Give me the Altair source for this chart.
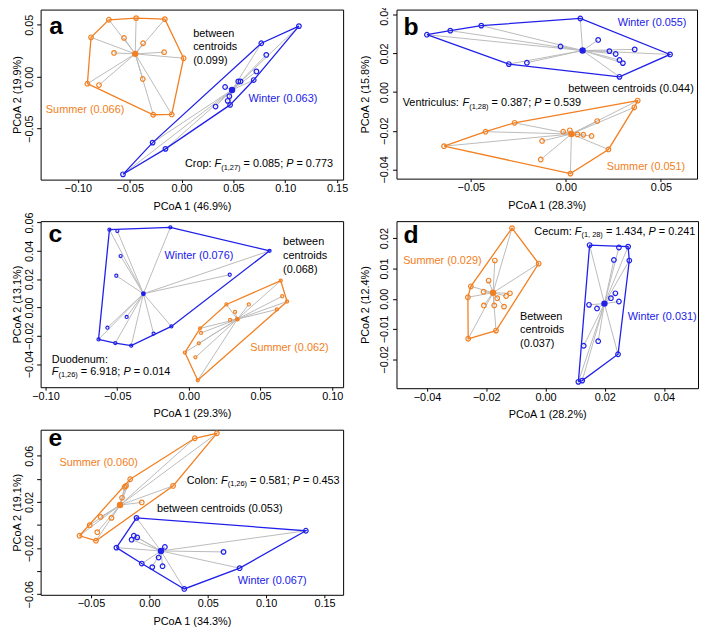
import altair as alt
import pandas as pd

FONT = "Liberation Sans"
ORANGE = "#F28022"
BLUE = "#2020EA"
GRAY = "#BBBBBB"

# ---------------- data ----------------
# a: Crop
a_sum_x = [-0.0701, -0.0438, -0.0161, -0.0873, -0.0555, -0.0371, -0.0651, -0.0168, 0.0020, -0.0374, -0.0908, -0.0796, -0.0273, -0.0095]
a_sum_y = [0.0548, 0.0564, 0.0554, 0.0379, 0.0373, 0.0322, 0.0229, 0.0236, 0.0178, -0.0022, -0.0067, -0.0080, -0.0366, -0.0363]
a_sum_c = [-0.0447, 0.0220]
a_win_x = [0.1132, 0.0769, 0.0817, 0.0722, 0.0696, 0.0547, 0.0569, 0.0420, 0.0461, 0.0445, 0.0468, 0.0328, -0.0279, -0.0155, -0.0565]
a_win_y = [0.0487, 0.0322, 0.0210, 0.0051, -0.0032, -0.0045, -0.0045, -0.0099, -0.0188, -0.0232, -0.0271, -0.0287, -0.0634, -0.0694, -0.0939]
a_win_c = [0.0487, -0.0127]

# b: Ventriculus
b_win_x = [-0.0731, -0.0608, -0.0445, 0.0076, 0.0170, -0.0028, 0.0229, 0.0262, 0.0362, 0.0282, 0.0300, 0.0548, -0.0300, -0.0205, 0.0282]
b_win_y = [0.0297, 0.0318, 0.0344, 0.0381, 0.0270, 0.0236, 0.0212, 0.0197, 0.0221, 0.0166, 0.0150, 0.0195, 0.0145, 0.0152, 0.0079]
b_win_c = [0.0088, 0.0215]
b_sum_x = [0.0378, 0.0360, 0.0165, -0.0270, -0.0423, -0.0014, 0.0021, 0.0061, 0.0092, 0.0135, -0.0125, -0.0641, 0.0224, -0.0132, 0.0024]
b_sum_y = [-0.0044, -0.0079, -0.0150, -0.0159, -0.0205, -0.0205, -0.0198, -0.0219, -0.0221, -0.0227, -0.0253, -0.0280, -0.0297, -0.0349, -0.0422]
b_sum_c = [0.0029, -0.0217]

# c: Duodenum
c_win_x = [-0.0554, -0.0499, -0.0129, 0.0563, -0.0476, -0.0506, 0.0285, -0.0434, -0.0568, -0.0122, -0.0246, -0.0630, -0.0513, -0.0402]
c_win_y = [0.0550, 0.0540, 0.0566, 0.0400, 0.0363, 0.0224, 0.0231, -0.0067, -0.0143, -0.0134, -0.0185, -0.0226, -0.0252, -0.0270]
c_win_c = [-0.0317, 0.0097]
c_sum_x = [0.0641, 0.0651, 0.0685, 0.0262, 0.0418, 0.0614, 0.0322, 0.0287, 0.0078, 0.0085, 0.0069, -0.0028, 0.0046, 0.0062]
c_sum_y = [0.0189, 0.0079, 0.0042, 0.0021, 0.0021, -0.0014, -0.0032, -0.0088, -0.0148, -0.0180, -0.0254, -0.0319, -0.0353, -0.0515]
c_sum_c = [0.0338, -0.0083]

# d: Cecum
d_sum_x = [-0.0113, -0.0023, -0.0171, -0.0192, -0.0252, -0.0209, -0.0262, -0.0120, -0.0133, -0.0163, -0.0208, -0.0173, -0.0140, -0.0167, -0.0261]
d_sum_y = [0.0233, 0.0116, 0.0126, 0.0060, 0.0041, 0.0023, 0.0005, 0.0018, 0.0009, 0.0002, -0.0022, -0.0022, -0.0026, -0.0105, -0.0132]
d_sum_c = [-0.0177, 0.0020]
d_win_x = [0.0149, 0.0248, 0.0279, 0.0231, 0.0283, 0.0236, 0.0147, 0.0174, 0.0248, 0.0129, 0.0178, 0.0245, 0.0111, 0.0124, 0.0221]
d_win_y = [0.0177, 0.0169, 0.0172, 0.0128, 0.0126, 0.0018, -0.0020, -0.0032, -0.0009, -0.0155, -0.0140, -0.0183, -0.0274, -0.0270, 0.0002]
d_win_c = [0.0199, -0.0016]

# e: Colon
e_sum_x = [0.0578, 0.0389, -0.0164, -0.0200, 0.0203, -0.0234, -0.0065, -0.0417, -0.0324, -0.0511, -0.0446, -0.0598, -0.0457, -0.0212]
e_sum_y = [0.0795, 0.0752, 0.0397, 0.0339, 0.0339, 0.0236, 0.0196, 0.0070, 0.0062, -0.0001, -0.0062, -0.0093, -0.0136, 0.0330]
e_sum_c = [-0.0251, 0.0173]
e_win_x = [-0.0110, 0.1340, -0.0133, -0.0152, -0.0104, -0.0282, 0.0133, 0.0635, 0.0079, -0.0065, 0.0025, 0.0113, 0.0773, 0.0299]
e_win_y = [0.0062, -0.0050, -0.0093, -0.0127, -0.0107, -0.0196, -0.0190, -0.0233, -0.0282, -0.0334, -0.0365, -0.0357, -0.0374, -0.0554]
e_win_c = [0.0099, -0.0225]

# ---------------- helpers ----------------
DUMMY = pd.DataFrame({"d": [0]})
CSCALE = alt.Scale(domain=["Summer", "Winter"], range=[ORANGE, BLUE])

W = {" ": .278, ".": .278, ",": .278, ";": .278, ":": .278, "=": .584, "(": .333, ")": .333,
     "F": .611, "P": .667, "C": .722, "V": .667, "D": .722, "B": .667, "S": .667, "W": .944,
     "a": .556, "b": .556, "c": .5, "d": .556, "e": .556, "i": .222, "l": .222, "m": .833,
     "n": .556, "o": .556, "p": .556, "r": .333, "s": .5, "t": .278, "u": .556, "v": .5,
     "w": .722, "k": .5}


def tw(s, fs):
    return sum(W.get(ch, 0.556) for ch in s) * fs


def txt(s, x, y, color="black", fs=11, style="normal", weight="normal", baseline="middle"):
    return alt.Chart(DUMMY).mark_text(
        text=s, font=FONT, fontSize=fs, fontStyle=style, fontWeight=weight,
        align="left", baseline=baseline, color=color
    ).encode(x=alt.value(x), y=alt.value(y))


def rich(segs, x, y, fs=11, subfs=7.5):
    out = []
    for s, kind in segs:
        size = subfs if kind == "sub" else fs
        lead = len(s) - len(s.lstrip(" "))
        body = s.strip(" ")
        if body:
            out.append(txt(body, x + tw(" " * lead, size), y + (3.5 if kind == "sub" else 0),
                           fs=size, style="italic" if kind == "i" else "normal"))
        x += tw(s, size)
    return out


def hull(xs, ys):
    pts = sorted(set(zip(xs, ys)))

    def cross(o, a, b):
        return (a[0] - o[0]) * (b[1] - o[1]) - (a[1] - o[1]) * (b[0] - o[0])
    lower, upper = [], []
    for p in pts:
        while len(lower) >= 2 and cross(lower[-2], lower[-1], p) <= 0:
            lower.pop()
        lower.append(p)
    for p in reversed(pts):
        while len(upper) >= 2 and cross(upper[-2], upper[-1], p) <= 0:
            upper.pop()
        upper.append(p)
    return lower[:-1] + upper[:-1]


def frames(groups):
    pts, hl, ce = [], [], []
    for name, xs, ys, c in groups:
        for x, y in zip(xs, ys):
            pts.append(dict(g=name, x=x, y=y, cx=c[0], cy=c[1]))
        h = hull(xs, ys)
        h = h + [h[0]]
        for i, (x, y) in enumerate(h):
            hl.append(dict(g=name, x=x, y=y, o=i))
        ce.append(dict(g=name, x=c[0], y=c[1]))
    return pd.DataFrame(pts), pd.DataFrame(hl), pd.DataFrame(ce)


def panel(groups, xdom, ydom, xvals, yvals, xtitle, ytitle, w, h, extra,
          ylabexpr=None, lpad=2, tpad=1, psize=22, csize=42):
    pts, hl, ce = frames(groups)
    xax = alt.Axis(values=xvals, format=".2f", title=xtitle, labelPadding=0,
                   titlePadding=7, tickSize=3)
    yargs = dict(values=yvals, format=".2f", title=ytitle, labelAngle=-90,
                 labelAlign="center", labelBaseline="bottom", labelPadding=lpad,
                 titlePadding=tpad, tickSize=4)
    if ylabexpr:
        yargs["labelExpr"] = ylabexpr
    yax = alt.Axis(**yargs)
    X = alt.X("x:Q", scale=alt.Scale(domain=xdom, nice=False, zero=False), axis=xax)
    Y = alt.Y("y:Q", scale=alt.Scale(domain=ydom, nice=False, zero=False), axis=yax)
    col = alt.Color("g:N", scale=CSCALE, legend=None)
    spokes = alt.Chart(pts).mark_rule(color=GRAY, strokeWidth=1).encode(
        x=X, y=Y, x2="cx:Q", y2="cy:Q")
    hulls = alt.Chart(hl).mark_line(strokeWidth=1.3).encode(
        x=X, y=Y, order="o:Q", detail="g:N", color=col)
    points = alt.Chart(pts).mark_point(shape="circle", filled=False, size=psize,
                                       strokeWidth=1.2, opacity=1).encode(x=X, y=Y, color=col)
    cents = alt.Chart(ce).mark_circle(size=csize, opacity=1).encode(x=X, y=Y, color=col)
    return alt.layer(spokes, hulls, points, cents, *extra).properties(width=w, height=h)


def letter(s, x, y):
    return txt(s, x, y, fs=25, weight="bold", baseline="alphabetic")


# ---------------- panels ----------------
pa = panel(
    [("Summer", a_sum_x, a_sum_y, a_sum_c), ("Winter", a_win_x, a_win_y, a_win_c)],
    [-0.1359, 0.1558], [-0.0990, 0.0646],
    [-0.10, -0.05, 0.0, 0.05, 0.10, 0.15], [-0.05, 0.0, 0.05],
    "PCoA 1 (46.9%)", "PCoA 2 (19.9%)", 306, 172,
    [letter("a", 8.7, 25),
     txt("between", 154.3, 25), txt("centroids", 154.3, 38.3), txt("(0.099)", 154.3, 51.7),
     txt("Summer (0.066)", 5.3, 101.7, color=ORANGE),
     txt("Winter (0.063)", 210.3, 90, color=BLUE)]
    + rich([("Crop:", "n"), (" F", "i"), ("(1,27)", "sub"), (" = 0.085;", "n"), (" P", "i"),
            (" = 0.773", "n")], 146, 156.7),
)

pb = panel(
    [("Winter", b_win_x, b_win_y, b_win_c), ("Summer", b_sum_x, b_sum_y, b_sum_c)],
    [-0.0891, 0.0690], [-0.0448, 0.0427],
    [-0.05, 0.0, 0.05], [-0.04, -0.02, 0.0, 0.02, 0.04],
    "PCoA 1 (28.3%)", "PCoA 2 (15.8%)", 304, 171,
    [letter("b", 7, 25.7),
     txt("Winter (0.055)", 223.7, 14, color=BLUE),
     txt("between centroids (0.044)", 173.7, 80.7),
     txt("Summer (0.051)", 212.7, 159, color=ORANGE)]
    + rich([("Ventriculus:", "n"), (" F", "i"), ("(1,28)", "sub"), (" = 0.387;", "n"), (" P", "i"),
            (" = 0.539", "n")], 6.3, 95),
    lpad=3.5, tpad=8,
)

pc = panel(
    [("Winter", c_win_x, c_win_y, c_win_c), ("Summer", c_sum_x, c_sum_y, c_sum_c)],
    [-0.1034, 0.1076], [-0.0564, 0.0610],
    [-0.10, -0.05, 0.0, 0.05, 0.10], [-0.04, -0.02, 0.0, 0.02, 0.04, 0.06],
    "PCoA 1 (29.3%)", "PCoA 2 (13.1%)", 306, 168,
    [letter("c", 8, 21.3),
     txt("Winter (0.076)", 125.3, 35.6, color=BLUE),
     txt("between", 245.3, 21.3), txt("centroids", 245.3, 35), txt("(0.068)", 245.3, 49),
     txt("Summer (0.062)", 212, 128, color=ORANGE),
     txt("Duodenum:", 11.3, 140)]
    + rich([("F", "i"), ("(1,26)", "sub"), (" = 6.918;", "n"), (" P", "i"),
            (" = 0.014", "n")], 11.3, 152.3),
    psize=10, csize=24,
)

pd_ = panel(
    [("Summer", d_sum_x, d_sum_y, d_sum_c), ("Winter", d_win_x, d_win_y, d_win_c)],
    [-0.0503, 0.0515], [-0.0295, 0.0256],
    [-0.04, -0.02, 0.0, 0.02, 0.04], [-0.02, -0.01, 0.0, 0.01, 0.02],
    "PCoA 1 (28.2%)", "PCoA 2 (12.4%)", 305, 169,
    [letter("d", 7, 22.3),
     txt("Summer (0.029)", 6.7, 40.6, color=ORANGE),
     txt("Between", 125, 96.6), txt("centroids", 125, 110.6), txt("(0.037)", 125, 124),
     txt("Winter (0.031)", 234, 96.6, color=BLUE)]
    + rich([("Cecum:", "n"), (" F", "i"), ("(1, 28)", "sub"), (" = 1.434,", "n"), (" P", "i"),
            (" = 0.241", "n")], 139.4, 10.6),
    lpad=3.5, tpad=8,
)

pe = panel(
    [("Summer", e_sum_x, e_sum_y, e_sum_c), ("Winter", e_win_x, e_win_y, e_win_c)],
    [-0.0931, 0.1659], [-0.0605, 0.0826],
    [-0.05, 0.0, 0.05, 0.10, 0.15], [-0.06, -0.04, -0.02, 0.0, 0.02, 0.04, 0.06],
    "PCoA 1 (34.3%)", "PCoA 2 (19.1%)", 306, 167,
    [letter("e", 8, 16),
     txt("Summer (0.060)", 19, 33.6, color=ORANGE),
     txt("between centroids (0.053)", 117.7, 80),
     txt("Winter (0.067)", 199.4, 153, color=BLUE)]
    + rich([("Colon:", "n"), (" F", "i"), ("(1,26)", "sub"), (" = 0.581;", "n"), (" P", "i"),
            (" = 0.453", "n")], 147.7, 51.6),
    ylabexpr="abs(round(datum.value*100)) % 4 == 2 ? format(datum.value, '.2f') : ''",
)

chart = alt.concat(
    pa, pb, pc, pd_, pe, columns=2,
    spacing={"row": 42, "column": 54}, bounds="flush", align="each",
).properties(
    padding={"left": 3, "top": -8, "right": 0, "bottom": 0}
).configure_view(
    stroke="black", strokeWidth=1
).configure_axis(
    labelFont=FONT, labelFontSize=11, titleFont=FONT, titleFontSize=11,
    titleFontWeight="normal", labelColor="black", titleColor="black",
    tickColor="black", domain=False, grid=False, labelFlush=False, labelOverlap=False,
)

chart.save("out.html", embed_options={"renderer": "svg", "actions": False})
